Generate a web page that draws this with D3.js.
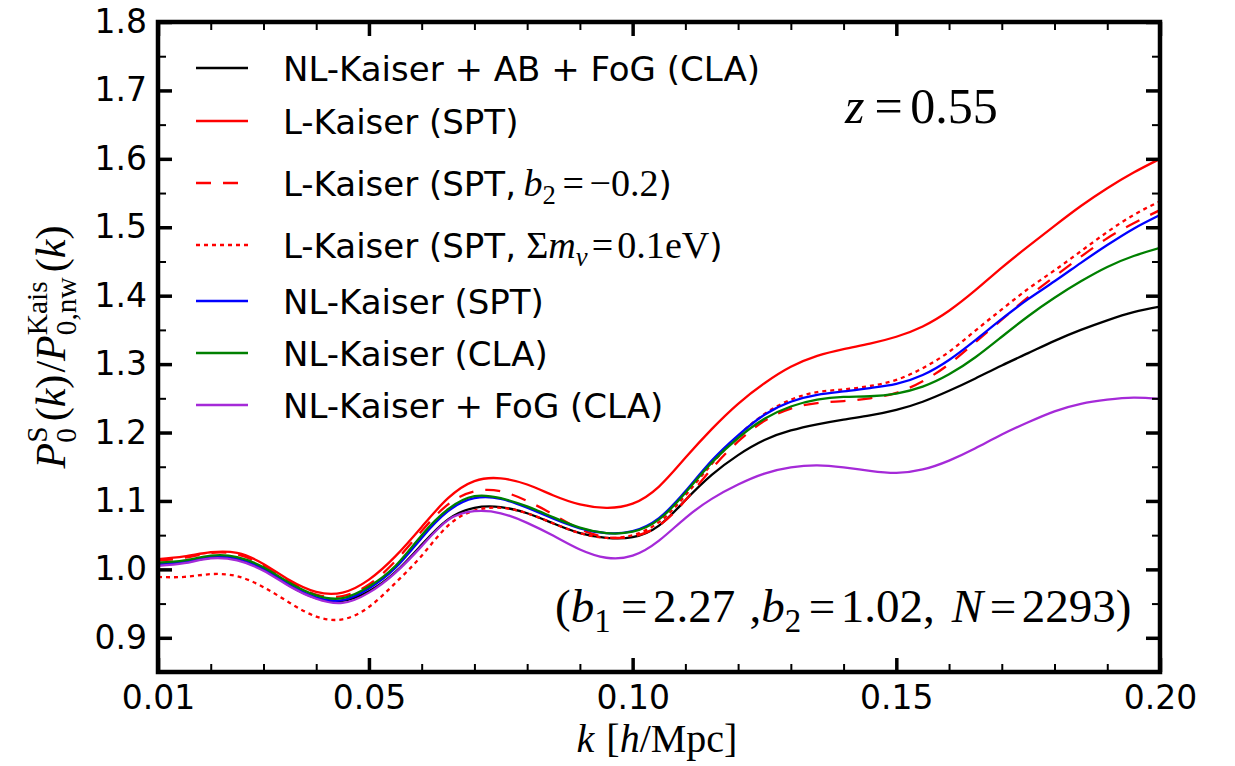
<!DOCTYPE html>
<html>
<head>
<meta charset="utf-8">
<script src="https://cdn.jsdelivr.net/npm/d3@7"></script>
<style>
  html, body { margin: 0; padding: 0; background: #ffffff; }
  svg { display: block; }
  text { white-space: pre; }
</style>
</head>
<body>
<svg id="chart" width="1235" height="766"></svg>
<script>
// ---- data -------------------------------------------------------------
const kValues = [0.010,0.015,0.020,0.025,0.030,0.035,0.040,0.045,0.050,0.055,
                 0.060,0.065,0.070,0.075,0.080,0.085,0.090,0.095,0.100,0.105,
                 0.110,0.115,0.120,0.125,0.130,0.135,0.140,0.145,0.150,0.155,
                 0.160,0.165,0.170,0.175,0.180,0.185,0.190,0.195,0.200];

// NL-Kaiser + AB + FoG (CLA)
const nlKaiserAbFogCla = [1.008,1.011,1.017,1.015,1.000,0.976,0.958,0.954,0.968,0.996,
                          1.036,1.073,1.090,1.091,1.082,1.067,1.053,1.046,1.047,1.064,
                          1.101,1.138,1.167,1.189,1.203,1.212,1.219,1.225,1.233,1.245,
                          1.261,1.279,1.298,1.316,1.334,1.350,1.364,1.376,1.384];
// L-Kaiser (SPT)
const lKaiserSpt = [1.015,1.019,1.025,1.024,1.008,0.984,0.967,0.966,0.985,1.019,
                    1.062,1.104,1.129,1.133,1.124,1.108,1.095,1.090,1.096,1.121,
                    1.163,1.205,1.242,1.272,1.296,1.312,1.322,1.330,1.340,1.355,
                    1.378,1.408,1.441,1.472,1.502,1.531,1.557,1.580,1.600];
// L-Kaiser (SPT, b2 = -0.2)
const lKaiserSptB2 = [1.013,1.017,1.024,1.022,1.006,0.982,0.963,0.961,0.978,1.012,
                      1.056,1.095,1.114,1.114,1.100,1.080,1.059,1.047,1.048,1.064,
                      1.101,1.147,1.187,1.217,1.235,1.243,1.246,1.250,1.258,1.275,
                      1.300,1.332,1.365,1.398,1.428,1.457,1.484,1.506,1.525];
// L-Kaiser (SPT, sum m_nu = 0.1 eV)
const lKaiserSptMnu = [0.989,0.989,0.993,0.990,0.974,0.951,0.931,0.927,0.945,0.980,
                       1.020,1.064,1.086,1.090,1.082,1.067,1.053,1.046,1.050,1.069,
                       1.108,1.154,1.195,1.227,1.248,1.259,1.263,1.268,1.277,1.294,
                       1.318,1.349,1.380,1.410,1.437,1.465,1.493,1.518,1.538];
// NL-Kaiser (SPT)
const nlKaiserSpt = [1.008,1.011,1.018,1.016,1.001,0.977,0.959,0.955,0.972,1.002,
                     1.046,1.085,1.104,1.103,1.090,1.074,1.060,1.053,1.056,1.075,
                     1.114,1.159,1.196,1.226,1.245,1.255,1.260,1.265,1.271,1.284,
                     1.306,1.335,1.366,1.395,1.421,1.448,1.474,1.498,1.518];
// NL-Kaiser (CLA)
const nlKaiserCla = [1.010,1.013,1.020,1.018,1.003,0.980,0.962,0.958,0.975,1.005,
                     1.050,1.088,1.107,1.104,1.092,1.076,1.061,1.053,1.055,1.073,
                     1.112,1.156,1.192,1.220,1.238,1.248,1.252,1.253,1.257,1.267,
                     1.285,1.310,1.340,1.370,1.397,1.421,1.442,1.458,1.470];
// NL-Kaiser + FoG (CLA)
const nlKaiserFogCla = [1.005,1.009,1.016,1.013,0.998,0.975,0.957,0.951,0.966,0.995,
                        1.034,1.072,1.085,1.082,1.068,1.049,1.029,1.017,1.020,1.042,
                        1.075,1.103,1.124,1.140,1.149,1.152,1.149,1.144,1.141,1.146,
                        1.159,1.177,1.197,1.215,1.231,1.242,1.248,1.251,1.249];

const xMajorTicks = [0.01, 0.05, 0.10, 0.15, 0.20];
const xMinorTicks = [0.02,0.03,0.04,0.06,0.07,0.08,0.09,0.11,0.12,0.13,0.14,0.16,0.17,0.18,0.19];
const yMajorTicks = [0.9,1.0,1.1,1.2,1.3,1.4,1.5,1.6,1.7,1.8];
const yMinorTicks = [0.95,1.05,1.15,1.25,1.35,1.45,1.55,1.65,1.75];

// ---- rich-text helper (mixed fonts, sub/superscripts) -----------------
const SANS = "'DejaVu Sans', 'Liberation Sans', sans-serif";
const SERIF = "'Liberation Serif', 'DejaVu Serif', serif";

function putText(g, it, x, base) {
  const el = g.append("text")
    .attr("x", x)
    .attr("y", (it.dy || 0) * base)
    .attr("font-family", it.f === "sans" ? SANS : SERIF)
    .attr("font-size", base * (it.s || 1))
    .attr("font-style", it.i ? "italic" : "normal")
    .attr("fill", "#000")
    .text(it.t);
  return el.node().getComputedTextLength();
}

function richText(parent, items, base, anchor) {
  const g = parent.append("g");
  let cx = 0;
  for (const it of items) {
    if (it.sp !== undefined) { cx += it.sp * base; continue; }
    if (it.stack) {
      let w = 0;
      for (const s of it.stack) w = Math.max(w, putText(g, s, cx, base));
      cx += w;
    } else {
      cx += putText(g, it, cx, base);
    }
  }
  const off = anchor === "middle" ? -cx / 2 : anchor === "end" ? -cx : 0;
  g.selectAll("text").attr("x", function () { return +this.getAttribute("x") + off; });
  return g;
}

// ---- series definitions ----------------------------------------------
const sans = t => ({ t, f: "sans" });
const M = 1.12; // math glyphs in the legend run slightly larger than the sans text
const series = [
  { values: nlKaiserAbFogCla, color: "#000000", dash: null,
    label: [sans("NL-Kaiser + AB + FoG (CLA)")] },
  { values: lKaiserSpt, color: "#ff0000", dash: null,
    label: [sans("L-Kaiser (SPT)")] },
  { values: lKaiserSptB2, color: "#ff0000", dash: "15,12",
    label: [sans("L-Kaiser (SPT,"), { sp: 0.22 }, { t: "b", i: true, s: M }, { t: "2", s: 0.7 * M, dy: 0.24 },
            { sp: 0.2 }, { t: "=", s: M }, { sp: 0.16 }, { t: "\u22120.2", s: M }, sans(")")] },
  { values: lKaiserSptMnu, color: "#ff0000", dash: "4,4",
    label: [sans("L-Kaiser (SPT,"), { sp: 0.3 }, { t: "\u03A3", s: M }, { t: "m", i: true, s: M },
            { t: "\u03BD", i: true, s: 0.7 * M, dy: 0.24 }, { sp: 0.12 }, { t: "=", s: M }, { sp: 0.12 },
            { t: "0.1eV", s: M }, sans(")")] },
  { values: nlKaiserSpt, color: "#0000ff", dash: null,
    label: [sans("NL-Kaiser (SPT)")] },
  { values: nlKaiserCla, color: "#008000", dash: null,
    label: [sans("NL-Kaiser (CLA)")] },
  { values: nlKaiserFogCla, color: "#a52ad8", dash: null,
    label: [sans("NL-Kaiser + FoG (CLA)")] }
];

// ---- layout -----------------------------------------------------------
const svg = d3.select("#chart");
const plot = { left: 158, right: 1160, top: 22, bottom: 672 };

const x = d3.scaleLinear().domain([0.01, 0.20]).range([plot.left, plot.right]);
const y = d3.scaleLinear().domain([0.85, 1.80]).range([plot.bottom, plot.top]);

svg.append("rect").attr("width", 1235).attr("height", 766).attr("fill", "#fff");

svg.append("defs").append("clipPath").attr("id", "plot-clip")
  .append("rect")
  .attr("x", plot.left).attr("y", plot.top)
  .attr("width", plot.right - plot.left).attr("height", plot.bottom - plot.top);

// curves
const line = d3.line()
  .x((d, i) => x(kValues[i]))
  .y(d => y(d))
  .curve(d3.curveNatural);

const curves = svg.append("g").attr("clip-path", "url(#plot-clip)");
series.forEach(s => {
  curves.append("path")
    .datum(s.values)
    .attr("d", line)
    .attr("fill", "none")
    .attr("stroke", s.color)
    .attr("stroke-width", 2.3)
    .attr("stroke-dasharray", s.dash)
    .attr("stroke-linejoin", "round");
});

// axes: inward ticks on all four sides
function styleAxis(g, width, labelled) {
  g.select(".domain").remove();
  g.selectAll(".tick line").attr("stroke", "#000").attr("stroke-width", width);
  if (labelled) {
    g.selectAll(".tick text")
      .attr("font-family", SANS).attr("font-size", 33).attr("fill", "#000");
  } else {
    g.selectAll(".tick text").remove();
  }
}

const MAJ = 14, MIN = 8;
svg.append("g").attr("transform", `translate(0,${plot.bottom})`)
  .call(d3.axisBottom(x).tickValues(xMajorTicks).tickSize(-MAJ).tickPadding(14).tickFormat(d3.format(".2f")))
  .call(g => styleAxis(g, 3.5, true));
svg.append("g").attr("transform", `translate(0,${plot.bottom})`)
  .call(d3.axisBottom(x).tickValues(xMinorTicks).tickSize(-MIN))
  .call(g => styleAxis(g, 2, false));
svg.append("g").attr("transform", `translate(0,${plot.top})`)
  .call(d3.axisTop(x).tickValues(xMajorTicks).tickSize(-MAJ))
  .call(g => styleAxis(g, 3.5, false));
svg.append("g").attr("transform", `translate(0,${plot.top})`)
  .call(d3.axisTop(x).tickValues(xMinorTicks).tickSize(-MIN))
  .call(g => styleAxis(g, 2, false));

svg.append("g").attr("transform", `translate(${plot.left},0)`)
  .call(d3.axisLeft(y).tickValues(yMajorTicks).tickSize(-MAJ).tickPadding(11).tickFormat(d3.format(".1f")))
  .call(g => styleAxis(g, 3.5, true));
svg.append("g").attr("transform", `translate(${plot.left},0)`)
  .call(d3.axisLeft(y).tickValues(yMinorTicks).tickSize(-MIN))
  .call(g => styleAxis(g, 2, false));
svg.append("g").attr("transform", `translate(${plot.right},0)`)
  .call(d3.axisRight(y).tickValues(yMajorTicks).tickSize(-MAJ))
  .call(g => styleAxis(g, 3.5, false));
svg.append("g").attr("transform", `translate(${plot.right},0)`)
  .call(d3.axisRight(y).tickValues(yMinorTicks).tickSize(-MIN))
  .call(g => styleAxis(g, 2, false));

// frame
svg.append("rect")
  .attr("x", plot.left).attr("y", plot.top)
  .attr("width", plot.right - plot.left).attr("height", plot.bottom - plot.top)
  .attr("fill", "none").attr("stroke", "#000").attr("stroke-width", 4.5);

// legend
const legendRowsY = [68, 121, 183, 245, 301, 353, 405];
const legend = svg.append("g");
series.forEach((s, i) => {
  const cy = legendRowsY[i];
  legend.append("line")
    .attr("x1", 196).attr("x2", 248).attr("y1", cy).attr("y2", cy)
    .attr("stroke", s.color).attr("stroke-width", 2.3)
    .attr("stroke-dasharray", s.dash);
  const row = legend.append("g").attr("transform", `translate(283,${cy + 12.5})`);
  richText(row, s.label, 34, "start");
});

// redshift tag
richText(svg.append("g").attr("transform", "translate(845,123)"),
  [{ t: "z", i: true }, { sp: 0.2 }, { t: "=" }, { sp: 0.15 }, { t: "0.55" }], 50, "start");

// bias parameters
richText(svg.append("g").attr("transform", "translate(555,622)"),
  [{ t: "(" }, { t: "b", i: true }, { t: "1", s: 0.7, dy: 0.22 }, { sp: 0.22 }, { t: "=" }, { sp: 0.12 },
   { t: "2.27" }, { sp: 0.3 }, { t: "," }, { t: "b", i: true }, { t: "2", s: 0.7, dy: 0.22 }, { sp: 0.16 },
   { t: "=" }, { sp: 0.12 }, { t: "1.02," }, { sp: 0.36 }, { t: "N", i: true }, { sp: 0.14 }, { t: "=" },
   { sp: 0.12 }, { t: "2293" }, { t: ")" }], 47, "start");

// x-axis title
richText(svg.append("g").attr("transform", `translate(${(plot.left + plot.right) / 2 - 2},752)`),
  [{ t: "k", i: true }, { sp: 0.3 }, { t: "[" }, { t: "h", i: true }, { t: "/Mpc" }, { t: "]" }], 40, "middle");

// y-axis title
richText(svg.append("g").attr("transform", `translate(65,${(plot.top + plot.bottom) / 2}) rotate(-90)`),
  [{ t: "P", i: true },
   { stack: [{ t: "S", s: 0.7, dy: -0.42 }, { t: "0", s: 0.7, dy: 0.25 }] }, { sp: 0.12 },
   { t: "(" }, { t: "k", i: true }, { t: ")" }, { sp: 0.05 },
   { t: "/" },
   { t: "P", i: true },
   { stack: [{ t: "Kais", s: 0.7, dy: -0.42 }, { t: "0,nw", s: 0.7, dy: 0.25 }] }, { sp: 0.12 },
   { t: "(" }, { t: "k", i: true }, { t: ")" }], 42, "middle");
</script>
</body>
</html>
